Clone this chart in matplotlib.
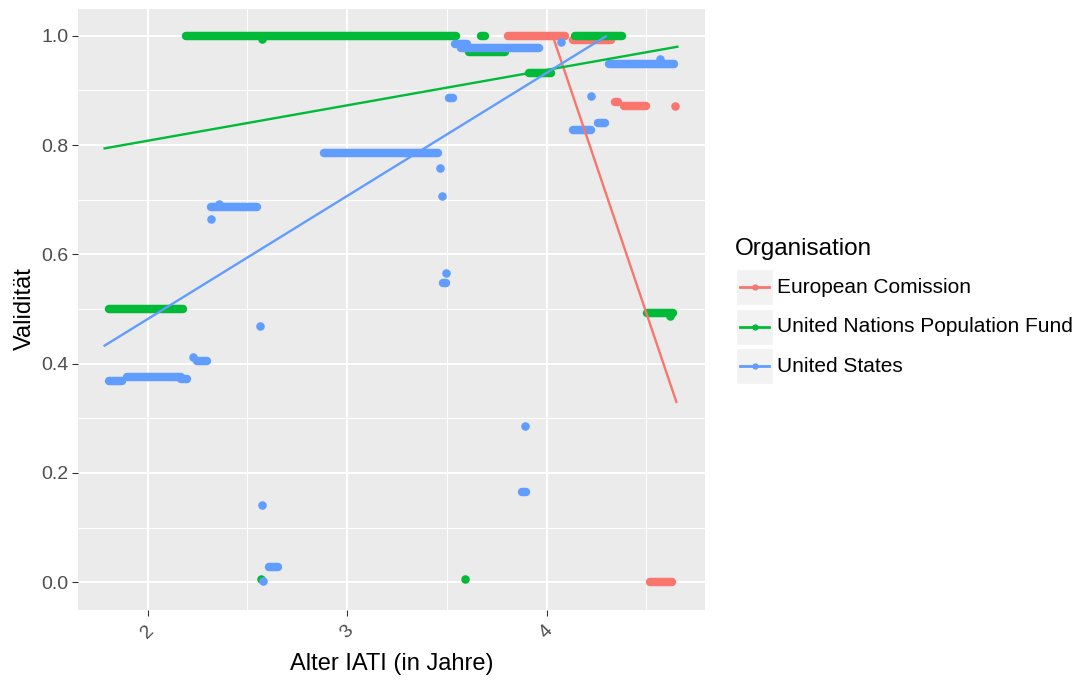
#!/usr/bin/env python3
"""Validity vs. IATI age per organisation, ggplot-style scatter with linear fits."""

from __future__ import annotations

import matplotlib

matplotlib.use("Agg")

import matplotlib.pyplot as plt
import numpy as np
from matplotlib.lines import Line2D
from matplotlib.patches import Rectangle

plt.rcParams["font.family"] = ["Liberation Sans", "DejaVu Sans"]

ORGS = ["European Comission", "United Nations Population Fund", "United States"]
COLORS = ["#F8766D", "#00BA38", "#619CFF"]

# runs of overlapping points: start x, end x, y
EC_BAND_X0 = [3.805, 4.13, 4.34, 4.39, 4.52]
EC_BAND_X1 = [4.09, 4.32, 4.36, 4.50, 4.63]
EC_BAND_Y = [1.0, 0.993, 0.878, 0.872, 0.0]
EC_DOT_X = [4.645]
EC_DOT_Y = [0.872]

UN_BAND_X0 = [2.195, 3.67, 4.14, 3.61, 3.91, 1.805, 4.505]
UN_BAND_X1 = [3.545, 3.69, 4.38, 3.79, 4.02, 2.18, 4.635]
UN_BAND_Y = [1.0, 1.0, 1.0, 0.970, 0.932, 0.5, 0.492]
UN_DOT_X = [2.573, 2.568, 3.59, 4.62]
UN_DOT_Y = [0.994, 0.005, 0.005, 0.488]

US_BAND_X0 = [3.54, 3.57, 1.805, 1.897, 2.17, 2.246, 2.32, 2.885, 4.31, 4.13, 4.255, 2.607, 3.51, 3.48, 3.875]
US_BAND_X1 = [3.60, 3.96, 1.87, 2.17, 2.20, 2.30, 2.547, 3.458, 4.64, 4.22, 4.29, 2.656, 3.53, 3.495, 3.895]
US_BAND_Y = [0.985, 0.978, 0.369, 0.376, 0.371, 0.405, 0.686, 0.785, 0.949, 0.828, 0.841, 0.027, 0.886, 0.548, 0.165]
US_DOT_X = [4.07, 4.22, 2.36, 2.32, 2.565, 2.226, 3.468, 3.474, 3.498, 3.889, 2.575, 2.58, 4.57]
US_DOT_Y = [0.988, 0.890, 0.693, 0.665, 0.468, 0.413, 0.758, 0.706, 0.566, 0.286, 0.141, 0.002, 0.957]

# linear fit per organisation, read at both ends of its data range
FIT_X0 = [3.785, 1.785, 1.785]
FIT_X1 = [4.65, 4.655, 4.66]
FIT_Y0 = [1.265, 0.794, 0.433]
FIT_Y1 = [0.330, 0.980, 1.081]

W, H = 1079, 680
PANEL_BG = "#EBEBEB"
TEXT_GREY = "#4D4D4D"


def px(x: float, y: float) -> tuple[float, float]:
    return x / W, 1 - y / H


def draw_org(ax, color, band_x0, band_x1, band_y, dot_x, dot_y):
    for x0, x1, y in zip(band_x0, band_x1, band_y):
        ax.plot([x0, x1], [y, y], color=color, lw=6.1, solid_capstyle="round", zorder=3)
    ax.scatter(dot_x, dot_y, s=38, color=color, linewidths=0, zorder=3)


def draw_fit(ax, color, x0, x1, y0, y1):
    xs = np.linspace(x0, x1, 80)
    ys = np.interp(xs, [x0, x1], [y0, y1])
    # values outside the y limits are dropped, like ggplot does
    ys = np.where((ys > 1.0) | (ys < 0.0), np.nan, ys)
    ax.plot(xs, ys, color=color, lw=1.7, zorder=4)


fig = plt.figure(figsize=(W / 100, H / 100), dpi=100)
ax = fig.add_axes([78 / W, 1 - 609.5 / H, 627 / W, 601 / H])
ax.set_facecolor(PANEL_BG)
for side in ax.spines.values():
    side.set_visible(False)

ax.set_xlim(1.6515, 4.7935)
ax.set_ylim(-0.05, 1.05)
ax.set_xticks([2, 3, 4])
ax.set_xticks([2.5, 3.5, 4.5], minor=True)
ax.set_yticks([0.0, 0.2, 0.4, 0.6, 0.8, 1.0])
ax.set_yticks([0.1, 0.3, 0.5, 0.7, 0.9], minor=True)
ax.set_yticklabels([f"{v:.1f}" for v in [0.0, 0.2, 0.4, 0.6, 0.8, 1.0]])
ax.grid(which="major", color="white", lw=1.4, zorder=0)
ax.grid(which="minor", color="white", lw=0.7, zorder=0)
ax.set_axisbelow(True)
ax.tick_params(which="major", length=4.3, width=0.8, color="#333333", labelsize=14, labelcolor=TEXT_GREY, pad=2.5)
ax.tick_params(which="minor", length=0)
ax.tick_params(axis="x", pad=5)
for label in ax.get_xticklabels():
    label.set_rotation(45)
    label.set_ha("center")

draw_org(ax, COLORS[0], EC_BAND_X0, EC_BAND_X1, EC_BAND_Y, EC_DOT_X, EC_DOT_Y)
draw_org(ax, COLORS[1], UN_BAND_X0, UN_BAND_X1, UN_BAND_Y, UN_DOT_X, UN_DOT_Y)
draw_org(ax, COLORS[2], US_BAND_X0, US_BAND_X1, US_BAND_Y, US_DOT_X, US_DOT_Y)
for i, color in enumerate(COLORS):
    draw_fit(ax, color, FIT_X0[i], FIT_X1[i], FIT_Y0[i], FIT_Y1[i])

ax.set_xlabel("Alter IATI (in Jahre)", fontsize=17)
ax.set_ylabel("Validität", fontsize=17)
ax.xaxis.set_label_coords(0.5, -0.09)
ax.xaxis.label.set_va("center")
ax.yaxis.set_label_coords(-0.0845, 0.5)
ax.yaxis.label.set_va("center")

# legend, drawn by hand to get the grey key boxes
fig.text(*px(735, 249), "Organisation", fontsize=17.5, ha="left", va="center")
for i, (org, color) in enumerate(zip(ORGS, COLORS)):
    cy = 287 + 39.5 * i
    bx, by = px(736, cy + 18)
    fig.add_artist(Rectangle((bx, by), 37 / W, 36 / H, transform=fig.transFigure,
                             facecolor="#F2F2F2", edgecolor="white", lw=1))
    lx0, ly = px(740, cy)
    lx1, _ = px(769, cy)
    fig.add_artist(Line2D([lx0, lx1], [ly, ly], transform=fig.transFigure, color=color, lw=2))
    mx, _ = px(754.5, cy)
    fig.add_artist(Line2D([mx], [ly], transform=fig.transFigure, color=color, marker="o",
                          markersize=4.5, markeredgewidth=0))
    fig.text(*px(777, cy), org, fontsize=15, ha="left", va="center")

fig.savefig("out.png", dpi=100, facecolor="white")
plt.close(fig)
